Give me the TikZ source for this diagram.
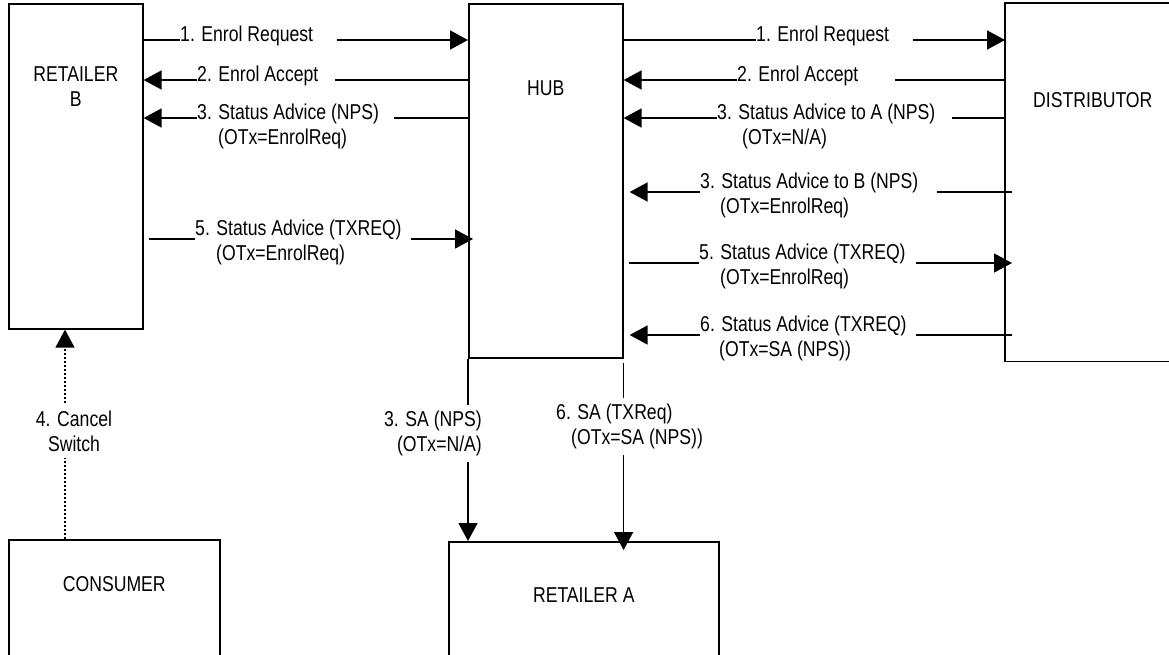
\documentclass[tikz,border=0pt]{standalone}
\usepackage{fontspec}
\setmainfont[FakeStretch=0.82]{Liberation Sans}
\usetikzlibrary{arrows.meta,positioning,calc}
\newcommand{\dgfont}{\fontsize{21.5pt}{25pt}\selectfont}
\tikzset{
  party/.style={draw=black,line width=1.6pt,inner sep=0pt,anchor=north west},
  partyname/.style={font=\dgfont,align=center,inner sep=0pt,anchor=north},
  msg/.style={font=\dgfont,inner sep=0pt,anchor=west,text height=15pt,text depth=12pt},
  msghi/.style={msg,text depth=22pt},
  msgsub/.style={font=\dgfont,inner sep=0pt,anchor=base west},
  flow/.style={line width=1.6pt},
  flowarr/.style={flow,-{Triangle[length=18pt,width=19pt]}},
  dropnote/.style={font=\dgfont,fill=white,inner sep=6pt}
}
\begin{document}
\begin{tikzpicture}[x=1pt,y=-1pt]
  \path[use as bounding box] (0,0) rectangle (1169,654);
  % parties
  \node[party,minimum width=134pt,minimum height=325pt,
        label={[partyname,yshift=-64pt]north:RETAILER\\B}] (rb) at (8,3) {};
  \node[party,minimum width=154pt,minimum height=354pt,
        label={[partyname,yshift=-77.5pt]north:HUB}] (hub) at (468,3) {};
  % distributor runs off the right edge
  \node[party,draw=none,minimum width=220pt,minimum height=357pt,
        label={[partyname,yshift=-89.5pt,xshift=-23pt]north:DISTRIBUTOR}] (dist) at (1005,3) {};
  \draw[flow] (dist.north east) -- (dist.north west) -- (dist.south west) -- (dist.south east);
  \node[party,minimum width=211pt,minimum height=130pt,
        label={[partyname,yshift=-37.5pt]north:CONSUMER}] (cons) at (8,539) {};
  \node[party,minimum width=270pt,minimum height=130pt,
        label={[partyname,yshift=-46.5pt]north:RETAILER A}] (reta) at (448,541) {};

  % retailer B <-> hub
  \node[msg] (m1) at (180,40) {1. Enrol Request};
  \draw[flow] (rb.east |- m1.west) -- (m1.west);
  \draw[flowarr] ([xshift=24pt]m1.east) -- (hub.west |- m1.east);

  \node[msg] (m2) at (197,80) {2. Enrol Accept};
  \draw[flow] (hub.west |- m2.east) -- ([xshift=16pt]m2.east);
  \draw[flowarr] (m2.west) -- (rb.east |- m2.west);

  \node[msg] (m3) at (197,118) {3. Status Advice (NPS)};
  \node[msgsub] (m3s) at ([xshift=21pt,yshift=-25pt]m3.base west) {(OTx=EnrolReq)};
  \draw[flow] (hub.west |- m3.east) -- ([xshift=15pt]m3.east);
  \draw[flowarr] (m3.west) -- (rb.east |- m3.west);

  \node[msghi] (m5) at (195,239) {5. Status Advice (TXREQ)};
  \node[msgsub] (m5s) at ([xshift=21pt,yshift=-25pt]m5.base west) {(OTx=EnrolReq)};
  \draw[flow] ([xshift=5pt]rb.east |- m5.west) -- (m5.west);
  \draw[flowarr] ([xshift=9pt]m5.east) -- ([xshift=5pt]hub.west |- m5.east);

  % hub <-> distributor
  \node[msg] (n1) at (756,40) {1. Enrol Request};
  \draw[flow] (hub.east |- n1.west) -- (n1.west);
  \draw[flowarr] ([xshift=24pt]n1.east) -- (dist.west |- n1.east);

  \node[msg] (n2) at (737,80) {2. Enrol Accept};
  \draw[flow] (dist.west |- n2.east) -- ([xshift=36pt]n2.east);
  \draw[flowarr] (n2.west) -- (hub.east |- n2.west);

  \node[msg] (n3) at (717,118) {3. Status Advice to A (NPS)};
  \node[msgsub] (n3s) at ([xshift=25pt,yshift=-25pt]n3.base west) {(OTx=N/A)};
  \draw[flow] (dist.west |- n3.east) -- ([xshift=16pt]n3.east);
  \draw[flowarr] (n3.west) -- (hub.east |- n3.west);

  \node[msghi] (n4) at (700,192) {3. Status Advice to B (NPS)};
  \node[msgsub] (n4s) at ([xshift=20pt,yshift=-25pt]n4.base west) {(OTx=EnrolReq)};
  \draw[flow] ([xshift=7pt]dist.west |- n4.east) -- ([xshift=18pt]n4.east);
  \draw[flowarr] (n4.west) -- ([xshift=6pt]hub.east |- n4.west);

  \node[msghi] (n5) at (699,263) {5. Status Advice (TXREQ)};
  \node[msgsub] (n5s) at ([xshift=21pt,yshift=-25pt]n5.base west) {(OTx=EnrolReq)};
  \draw[flow] ([xshift=5pt]hub.east |- n5.west) -- (n5.west);
  \draw[flowarr] ([xshift=10pt]n5.east) -- ([xshift=7pt]dist.west |- n5.east);

  \node[msghi] (n6) at (700,335) {6. Status Advice (TXREQ)};
  \node[msgsub] (n6s) at ([xshift=19pt,yshift=-25pt]n6.base west) {(OTx=SA (NPS))};
  \draw[flow] ([xshift=7pt]dist.west |- n6.east) -- ([xshift=9pt]n6.east);
  \draw[flowarr] (n6.west) -- ([xshift=6pt]hub.east |- n6.west);

  % hub -> retailer A
  \draw[flowarr] (hub.south west) -- (hub.south west |- reta.north);
  \node[dropnote,align=right,anchor=north east] (sa3) at (488,405) {3. SA (NPS)\\(OTx=N/A)};
  \draw[flowarr] ([yshift=-4pt]hub.south east) -- ([yshift=-9pt]hub.south east |- reta.north);
  \node[dropnote,align=left,anchor=north west] (sa6) at (550,398)
    {6. SA (TXReq)\\\hspace*{15pt}(OTx=SA (NPS))};

  % consumer -> retailer B
  \coordinate (cx) at ([xshift=57pt]cons.north west);
  \draw[line width=1.3pt,dash pattern=on 2pt off 2pt,
        -{Triangle[length=18pt,width=19pt]}] (cx) -- (cx |- rb.south);
  \node[dropnote,align=center,anchor=north] (cancel) at (74,405) {4. Cancel\\Switch};
\end{tikzpicture}
\end{document}
